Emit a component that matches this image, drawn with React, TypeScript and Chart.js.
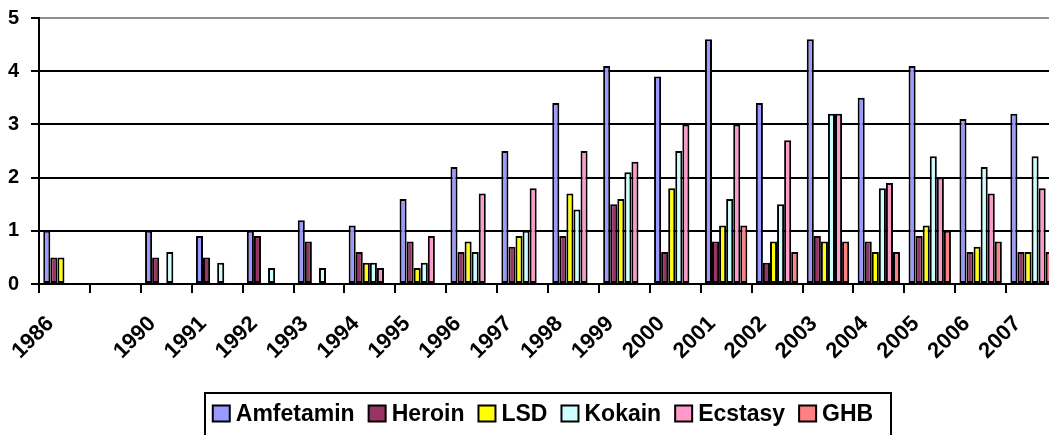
import React, { useEffect, useRef } from 'react';
import { Chart, registerables } from 'chart.js';

Chart.register(...registerables);

const categories = ['1986', '', '1990', '1991', '1992', '1993', '1994', '1995', '1996', '1997', '1998', '1999', '2000', '2001', '2002', '2003', '2004', '2005', '2006', '2007'];
const amfetamin = [1.0, null, 1.0, 0.9, 1.0, 1.2, 1.1, 1.6, 2.2, 2.5, 3.4, 4.1, 3.9, 4.6, 3.4, 4.6, 3.5, 4.1, 3.1, 3.2];
const heroin = [0.5, null, 0.5, 0.5, 0.9, 0.8, 0.6, 0.8, 0.6, 0.7, 0.9, 1.5, 0.6, 0.8, 0.4, 0.9, 0.8, 0.9, 0.6, 0.6];
const lsd = [0.5, null, null, null, null, null, 0.4, 0.3, 0.8, 0.9, 1.7, 1.6, 1.8, 1.1, 0.8, 0.8, 0.6, 1.1, 0.7, 0.6];
const kokain = [null, null, 0.6, 0.4, 0.3, 0.3, 0.4, 0.4, 0.6, 1.0, 1.4, 2.1, 2.5, 1.6, 1.5, 3.2, 1.8, 2.4, 2.2, 2.4];
const ecstasy = [null, null, null, null, null, null, 0.3, 0.9, 1.7, 1.8, 2.5, 2.3, 3.0, 3.0, 2.7, 3.2, 1.9, 2.0, 1.7, 1.8];
const ghb = [null, null, null, null, null, null, null, null, null, null, null, null, null, 1.1, 0.6, 0.8, 0.6, 1.0, 0.8, 0.6];
const seriesNames = ['Amfetamin', 'Heroin', 'LSD', 'Kokain', 'Ecstasy', 'GHB'];
const seriesColors = ['#9999FF', '#993366', '#FFFF00', '#CCFFFF', '#FF99CC', '#FF8080'];
const yTicks = [0, 1, 2, 3, 4, 5];

const FONT = 'Arial, "Liberation Sans", sans-serif';

const boxLegend = {
  id: 'boxLegend',
  afterDraw(chart: any) {
    const ctx = chart.ctx as CanvasRenderingContext2D;
    const top = chart.height - 43;
    const frameLeft = 205;
    const frameRight = 891;
    ctx.save();
    ctx.lineWidth = 2;
    ctx.strokeStyle = '#000';
    ctx.strokeRect(frameLeft, top + 1, frameRight - frameLeft, 60);
    ctx.font = `bold 23px ${FONT}`;
    ctx.textBaseline = 'middle';
    ctx.textAlign = 'left';
    const sw = 17;
    const sh = 16;
    const gapText = 6;
    const gapItem = 14;
    const items = chart.data.datasets.map((d: any) => ({
      label: d.label,
      color: d.backgroundColor,
      w: ctx.measureText(d.label).width,
    }));
    const total = items.reduce((s: number, it: any) => s + sw + gapText + it.w, 0) + gapItem * (items.length - 1);
    let x = 543 - total / 2;
    const cy = top + 21.5;
    items.forEach((it: any) => {
      ctx.fillStyle = it.color;
      ctx.fillRect(x, cy - sh / 2, sw, sh);
      ctx.lineWidth = 2;
      ctx.strokeStyle = '#000';
      ctx.strokeRect(x, cy - sh / 2, sw, sh);
      ctx.fillStyle = '#000';
      ctx.fillText(it.label, x + sw + gapText, cy + 1);
      x += sw + gapText + it.w + gapItem;
    });
    ctx.restore();
  },
};

export default function App() {
  const ref = useRef<HTMLCanvasElement | null>(null);
  useEffect(() => {
    if (!ref.current) return;
    const series = [amfetamin, heroin, lsd, kokain, ecstasy, ghb];
    const chart = new Chart(ref.current, {
      type: 'bar',
      data: {
        labels: categories,
        datasets: series.map((s, i) => ({
          label: seriesNames[i],
          data: s,
          backgroundColor: seriesColors[i],
          borderColor: '#000',
          borderWidth: 2,
          borderSkipped: false,
          categoryPercentage: 0.833,
          barPercentage: 1.0,
        })),
      },
      options: {
        responsive: false,
        animation: false,
        layout: { autoPadding: false, padding: { left: 8, top: 18, right: 0, bottom: 43 } },
        plugins: {
          legend: { display: false },
          tooltip: { enabled: false },
        },
        scales: {
          x: {
            grid: {
              offset: true,
              drawOnChartArea: false,
              drawTicks: true,
              tickLength: 9,
              color: '#000',
              lineWidth: 2,
            },
            border: { display: true, color: '#000', width: 2 },
            ticks: {
              autoSkip: false,
              maxRotation: 45,
              minRotation: 45,
              color: '#000',
              font: { family: FONT, size: 22, weight: 'bold' },
              padding: 18,
              labelOffset: -14,
            },
            afterFit: (scale: any) => {
              scale.height = 108;
              scale.paddingLeft = 0;
              scale.paddingRight = 0;
            },
          },
          y: {
            min: 0,
            max: 5,
            afterBuildTicks: (scale: any) => {
              scale.ticks = yTicks.map((v) => ({ value: v }));
            },
            afterFit: (scale: any) => {
              scale.width = 31;
              scale.paddingTop = 0;
              scale.paddingBottom = 0;
            },
            grid: {
              color: (c: any) => (c.tick && c.tick.value === 5 ? '#909090' : '#000'),
              tickColor: '#000',
              lineWidth: 2,
              tickLength: 8,
              drawTicks: true,
            },
            border: { display: true, color: '#000', width: 2 },
            ticks: {
              color: '#000',
              font: { family: FONT, size: 20, weight: 'bold' },
              padding: 12,
            },
          },
        },
      },
      plugins: [boxLegend],
    });
    return () => chart.destroy();
  }, []);
  return (
    <div style={{ position: 'absolute', left: 0, top: 0, width: 1049, height: 435, overflow: 'hidden', background: '#fff' }}>
      <canvas ref={ref} width={1057} height={435} style={{ display: 'block', width: 1057, height: 435 }} />
    </div>
  );
}
